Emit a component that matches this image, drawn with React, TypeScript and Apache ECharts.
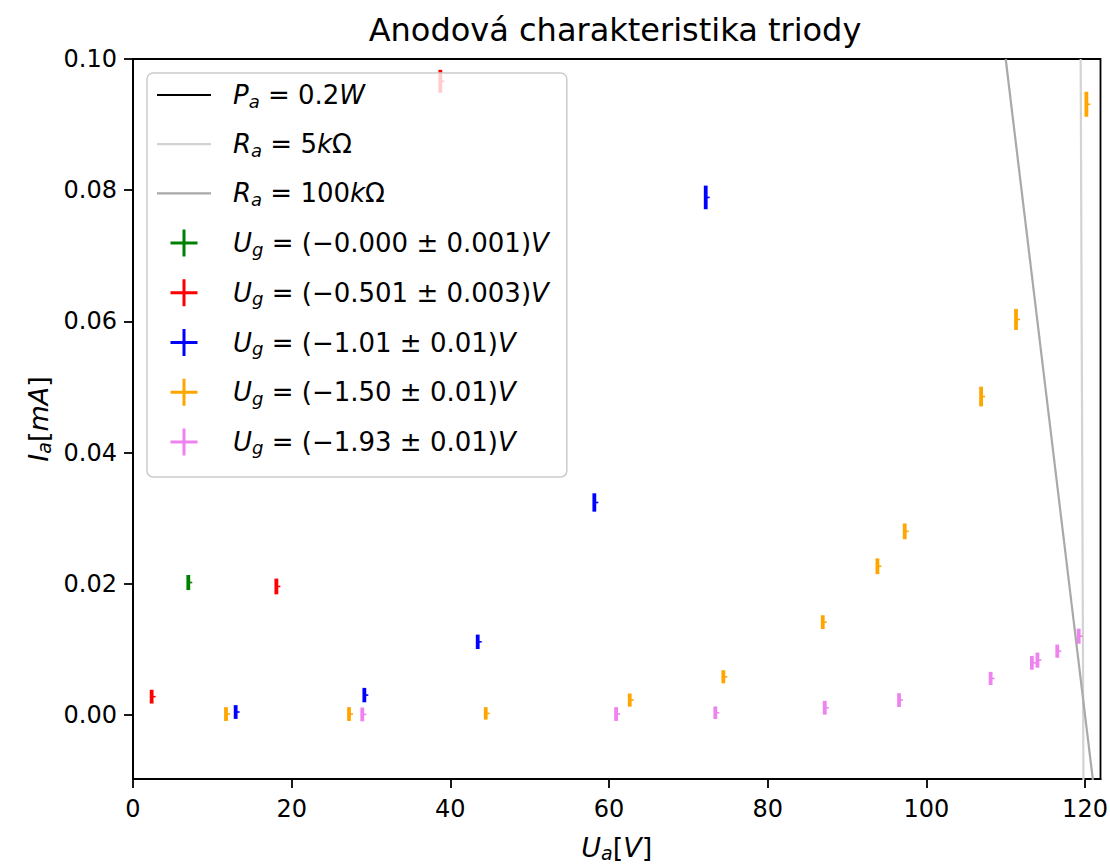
import React, { useEffect, useRef } from "react";
import * as echarts from "echarts";

// ---------- data ----------
const TITLE = "Anodová charakteristika triody";
const X_TICKS = [0, 20, 40, 60, 80, 100, 120];
const Y_TICK_FIRST = 0;
const Y_TICK_LAST = 0.1;
const Y_TICK_STEP = 0.02;
const X_MIN = 0;
const X_MAX = 121.95;
const Y_MIN = -0.00975;
const Y_MAX = 0.1;

// power hyperbola lies completely outside the visible window
const PA_U: number[] = [];
const PA_I: number[] = [];
// load lines (end points)
const R5K_U = [119.45, 119.8];
const R5K_I = [0.1, -0.01];
const R100K_U = [110.0, 121.0];
const R100K_I = [0.1, -0.01];

const XERR = 0.5;

const G0_U = [6.97];
const G0_I = [0.0202];
const G0_E = [0.00115];

const G1_U = [2.35, 18.07, 38.74];
const G1_I = [0.0028, 0.0196, 0.0966];
const G1_E = [0.00105, 0.0012, 0.00175];

const G2_U = [12.94, 29.16, 43.45, 58.15, 72.19];
const G2_I = [0.00046, 0.00304, 0.01116, 0.0324, 0.0789];
const G2_E = [0.00105, 0.0011, 0.0011, 0.0014, 0.0018];

const G3_U = [11.72, 27.23, 44.46, 62.61, 74.41, 86.94, 93.83, 97.27, 106.9, 111.3, 120.17];
const G3_I = [0.00015, 0.00015, 0.00025, 0.00228, 0.00583, 0.01416, 0.02268, 0.028, 0.04855, 0.0603, 0.0931];
const G3_E = [0.00105, 0.00105, 0.00095, 0.001, 0.001, 0.00105, 0.0012, 0.0012, 0.0015, 0.0016, 0.0019];

const G4_U = [28.9, 60.89, 73.4, 87.19, 96.56, 108.1, 113.3, 114.0, 116.5, 119.2];
const G4_I = [0.0001, 0.00015, 0.00035, 0.00111, 0.00228, 0.00558, 0.00796, 0.00837, 0.00974, 0.01202];
const G4_E = [0.00105, 0.00105, 0.00095, 0.00105, 0.00105, 0.001, 0.00105, 0.00115, 0.001, 0.00115];

const LINE_NAMES = ["P_a = 0.2W", "R_a = 5kΩ", "R_a = 100kΩ"];
const LINE_COLORS = ["#000000", "#d3d3d3", "#a9a9a9"];
const LINE_LEGEND = [
  "{g| }{i|P}{s|a}{n| = 0.2}{i|W}",
  "{g| }{i|R}{s|a}{n| = 5}{i|k}{n|Ω}",
  "{g| }{i|R}{s|a}{n| = 100}{i|k}{n|Ω}",
];

const ERR_NAMES = [
  "U_g = (−0.000 ± 0.001)V",
  "U_g = (−0.501 ± 0.003)V",
  "U_g = (−1.01 ± 0.01)V",
  "U_g = (−1.50 ± 0.01)V",
  "U_g = (−1.93 ± 0.01)V",
];
const ERR_LEGEND = [
  "{g| }{i|U}{s|g}{n| = (−0.000 ± 0.001)}{i|V}",
  "{g| }{i|U}{s|g}{n| = (−0.501 ± 0.003)}{i|V}",
  "{g| }{i|U}{s|g}{n| = (−1.01 ± 0.01)}{i|V}",
  "{g| }{i|U}{s|g}{n| = (−1.50 ± 0.01)}{i|V}",
  "{g| }{i|U}{s|g}{n| = (−1.93 ± 0.01)}{i|V}",
];
const ERR_COLORS = ["#008000", "#ff0000", "#0000ff", "#ffa500", "#ee82ee"];
const ERR_U = [G0_U, G1_U, G2_U, G3_U, G4_U];
const ERR_I = [G0_I, G1_I, G2_I, G3_I, G4_I];
const ERR_E = [G0_E, G1_E, G2_E, G3_E, G4_E];

// ---------- styling ----------
const FONT = "DejaVu Sans";
const LF = 26; // legend font
const TF = 24; // tick font
const NF = 27; // axis name font

const GRID_LEFT = 133;
const GRID_TOP = 59;
const GRID_RIGHT = 9.5;
const GRID_BOTTOM = 86;
const CHART_H = 865;

const makeRich = (f: number) => ({
  g: { width: 17, fontSize: f, fontFamily: FONT },
  i: { fontFamily: FONT, fontStyle: "italic", fontSize: f, lineHeight: 30, color: "#000" },
  n: { fontFamily: FONT, fontSize: f, lineHeight: 30, color: "#000" },
  s: {
    fontFamily: FONT,
    fontStyle: "italic",
    fontSize: Math.round(f * 0.7),
    lineHeight: 14,
    verticalAlign: "bottom",
    color: "#000",
  },
});

const PLUS = "path://M12,0h3v12h12v3h-12v12h-3v-12h-12v-3h12z";
const HLINE = "path://M0,0h54v2.2h-54z";

function buildOption() {
  const legendLabel: Record<string, string> = {};
  LINE_NAMES.forEach((n, k) => (legendLabel[n] = LINE_LEGEND[k]));
  ERR_NAMES.forEach((n, k) => (legendLabel[n] = ERR_LEGEND[k]));

  // helper grid that spans exactly the labelled tick range of the main y axis
  const plotH = CHART_H - GRID_TOP - GRID_BOTTOM;
  const pxPerUnit = plotH / (Y_MAX - Y_MIN);
  const helperTop = GRID_TOP + (Y_MAX - Y_TICK_LAST) * pxPerUnit;
  const helperBottom = GRID_BOTTOM + (Y_TICK_FIRST - Y_MIN) * pxPerUnit;

  const lineSeries = [
    [PA_U, PA_I],
    [R5K_U, R5K_I],
    [R100K_U, R100K_I],
  ].map(([u, i], k) => ({
    type: "line",
    name: LINE_NAMES[k],
    data: u.map((x, j) => [x, i[j]]),
    showSymbol: false,
    symbol: "none",
    clip: true,
    color: LINE_COLORS[k],
    lineStyle: { color: LINE_COLORS[k], width: 2.2 },
    z: 3,
  }));

  const errSeries = ERR_NAMES.map((name, k) => ({
    type: "custom",
    name,
    clip: true,
    color: ERR_COLORS[k],
    itemStyle: { color: ERR_COLORS[k] },
    encode: { x: 0, y: 1 },
    data: ERR_U[k].map((x, j) => [x, ERR_I[k][j], ERR_E[k][j]]),
    renderItem: (params: any, api: any) => {
      const x = api.value(0);
      const y = api.value(1);
      const e = api.value(2);
      const c = api.coord([x, y]);
      const top = api.coord([x, y + e]);
      const bot = api.coord([x, y - e]);
      const r = api.coord([x + XERR, y]);
      const color = ERR_COLORS[k];
      return {
        type: "group",
        children: [
          {
            type: "line",
            shape: { x1: c[0], y1: c[1], x2: r[0], y2: c[1] },
            style: { stroke: color, lineWidth: 1.6 },
          },
          {
            type: "line",
            shape: { x1: c[0], y1: top[1], x2: c[0], y2: bot[1] },
            style: { stroke: color, lineWidth: 3.8 },
          },
        ],
      };
    },
    z: 4,
  }));

  const tickLine = { color: "#000", width: 1.8 };

  return {
    animation: false,
    backgroundColor: "#ffffff",
    textStyle: { fontFamily: FONT },
    grid: [
      {
        left: GRID_LEFT,
        top: GRID_TOP,
        right: GRID_RIGHT,
        bottom: GRID_BOTTOM,
        outerBoundsMode: "none",
        containLabel: false,
        show: true,
        borderColor: "#000",
        borderWidth: 1.8,
        backgroundColor: "transparent",
      },
      {
        left: GRID_LEFT,
        top: helperTop,
        right: GRID_RIGHT,
        bottom: helperBottom,
        outerBoundsMode: "none",
        containLabel: false,
        show: false,
      },
    ],
    graphic: [
      {
        type: "text",
        x: 615,
        y: 30,
        style: {
          text: TITLE,
          fontFamily: FONT,
          fontSize: 32,
          fill: "#000",
          align: "center",
          verticalAlign: "middle",
        },
      },
    ],
    legend: {
      orient: "vertical",
      left: 147,
      top: 73,
      padding: [9, 18, 20, 10],
      itemWidth: 54,
      itemHeight: 27,
      itemGap: 21.2,
      selectedMode: false,
      backgroundColor: "rgba(255,255,255,0.8)",
      borderColor: "#cccccc",
      borderWidth: 1.5,
      borderRadius: 6,
      z: 10,
      formatter: (name: string) => legendLabel[name] || name,
      textStyle: { rich: makeRich(LF), fontFamily: FONT, fontSize: LF, color: "#000" },
      data: [
        ...LINE_NAMES.map((n, k) => ({ name: n, icon: HLINE, itemStyle: { color: LINE_COLORS[k] } })),
        ...ERR_NAMES.map((n, k) => ({ name: n, icon: PLUS, itemStyle: { color: ERR_COLORS[k] } })),
      ],
    },
    xAxis: [
      {
        type: "value",
        gridIndex: 0,
        position: "bottom",
        min: X_MIN,
        max: X_MAX,
        name: "{i|U}{s|a}{n|[}{i|V}{n|]}",
        nameLocation: "middle",
        nameGap: 53,
        nameTextStyle: { rich: makeRich(NF) },
        axisLine: { show: true, onZero: false, lineStyle: tickLine },
        splitLine: { show: false },
        axisTick: { show: true, inside: false, length: 9, customValues: X_TICKS, lineStyle: tickLine },
        axisLabel: {
          customValues: X_TICKS,
          margin: 18,
          fontFamily: FONT,
          fontSize: TF,
          color: "#000",
          formatter: (v: number) => String(v),
        },
      },
      {
        type: "value",
        gridIndex: 1,
        min: X_MIN,
        max: X_MAX,
        show: false,
      },
    ],
    yAxis: [
      {
        type: "value",
        gridIndex: 0,
        position: "left",
        min: Y_MIN,
        max: Y_MAX,
        name: "{i|I}{s|a}{n|[}{i|mA}{n|]}",
        nameLocation: "middle",
        nameGap: 80,
        nameRotate: 90,
        nameTextStyle: { rich: makeRich(NF) },
        axisLine: { show: true, onZero: false, lineStyle: tickLine },
        splitLine: { show: false },
        axisTick: { show: false },
        axisLabel: { show: false },
      },
      {
        // tick marks and labels of the current axis, 0.00 … 0.10
        type: "value",
        gridIndex: 1,
        position: "left",
        min: Y_TICK_FIRST,
        max: Y_TICK_LAST,
        interval: Y_TICK_STEP,
        axisLine: { show: false, onZero: false },
        splitLine: { show: false },
        axisTick: { show: true, inside: false, length: 9, lineStyle: tickLine },
        axisLabel: {
          show: true,
          margin: 16,
          fontFamily: FONT,
          fontSize: TF,
          color: "#000",
          formatter: (v: number) => v.toFixed(2),
        },
      },
    ],
    series: [...lineSeries, ...errSeries],
  };
}

export default function App() {
  const ref = useRef<HTMLDivElement>(null);
  useEffect(() => {
    document.body.style.margin = "0";
    const chart = echarts.init(ref.current!, null, { renderer: "svg" });
    chart.setOption(buildOption() as any);
    return () => chart.dispose();
  }, []);
  return <div ref={ref} style={{ width: 1110, height: 865 }} />;
}
